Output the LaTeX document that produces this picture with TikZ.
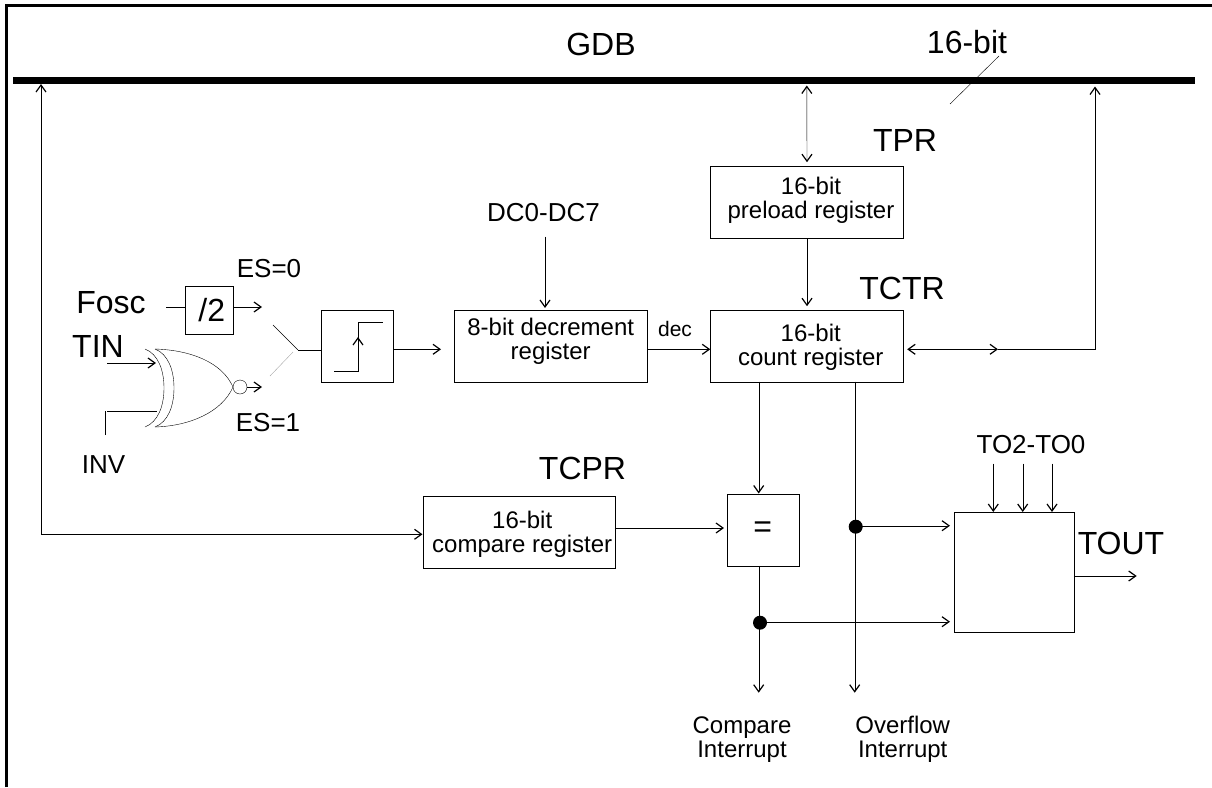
\documentclass[tikz,border=0pt]{standalone}
\usepackage{fontspec}
\setmainfont{Liberation Sans}
\usetikzlibrary{arrows.meta}
\newcommand{\fbig}{\fontsize{32}{34}\selectfont}
\newcommand{\fmid}{\fontsize{26}{28}\selectfont}
\newcommand{\fsmall}{\fontsize{24}{24}\selectfont}
\newcommand{\fdec}{\fontsize{21}{24}\selectfont}
\tikzset{
 x=1pt,y=-1pt,
 line width=1.3pt,
 box/.style={draw,minimum width=#1,inner sep=0pt,align=center,font=\fsmall,anchor=north west},
 big/.style={font=\fbig,inner sep=0pt,anchor=base},
 small/.style={font=\fsmall,inner sep=0pt,align=center,anchor=base},
 mid/.style={font=\fmid,inner sep=0pt,anchor=base},
 arr/.style={-{Straight Barb[length=7pt,width=10pt,line width=1.2pt]}},
 barr/.style={{Straight Barb[length=7pt,width=10pt,line width=1.2pt]}-{Straight Barb[length=7pt,width=10pt,line width=1.2pt]}},
 dotn/.style={circle,fill,inner sep=0pt,minimum size=14pt},
}
\begin{document}
\begin{tikzpicture}
\useasboundingbox (0,0) rectangle (1212,787);
% frame
\draw[line width=2.8pt] (6.5,787) -- (6.5,5.5) -- (1212,5.5);
% bus
\coordinate (busL) at (13,80.3); \coordinate (busR) at (1194.5,80.3);
\draw[line width=7.5pt] (busL) -- (busR);
\node[big] (gdb) at (601,55.3) {GDB};
\node[big] (bw) at (967,53) {16-bit};
\coordinate (s1) at (999,56); \coordinate (s2) at (950,104);
\draw (s1) -- (s2);
% boxes
\node[box=193pt,minimum height=72pt] (tpr) at (710.3,165.7) {\hspace*{8pt}16-bit\\\hspace*{8pt}preload register\rule[-9pt]{0pt}{0pt}};
\node[box=193pt,minimum height=72pt] (tctr) at (710.3,309.7) {\hspace*{7.5pt}\rule{0pt}{21pt}16-bit\\\hspace*{7.5pt}count register};
\node[box=193pt,minimum height=72pt] (dec) at (454,309.7) {8-bit decrement\\register\rule[-14.5pt]{0pt}{0pt}};
\node[box=72pt,minimum height=72pt] (sch) at (321,309.7) {};
\node[box=48pt,minimum height=48pt,font=\fbig] (div) at (185,286) {\hspace*{5pt}/2};
\node[box=192pt,minimum height=72pt] (cmp) at (422.5,496) {\hspace*{7pt}\rule{0pt}{21pt}16-bit\\\hspace*{7pt}compare register};
\node[box=72pt,minimum height=72pt,font=\fbig] (eq) at (726.5,493.5) {=};
\node[box=120pt,minimum height=120pt] (out) at (953.5,512) {};
% labels
\node[big] (ltpr) at (905,151.7) {TPR};
\node[big] (ltctr) at (902,299) {TCTR};
\node[big] (ltcpr) at (582.5,479.3) {TCPR};
\node[big] (lfosc) at (111,313) {Fosc};
\node[big] (ltin) at (98,357) {TIN};
\node[big] (ltout) at (1121,554) {TOUT};
\node[mid] (les0) at (269,277) {ES=0};
\node[mid] (les1) at (268,431) {ES=1};
\node[mid] (linv) at (103.5,473) {INV};
\node[mid] (ldc) at (543.5,221.7) {DC0-DC7};
\node[mid] (lto) at (1031,453) {TO2-TO0};
\node[inner sep=0pt,font=\fdec,anchor=base] (ldec) at (675,336) {dec};
\node[small] (lci) at (742,757.5) {Compare\\Interrupt};
\node[small] (loi) at (902.7,757.5) {Overflow\\Interrupt};
% gate
\coordinate (tip) at (233,387);
\draw (145,349) .. controls (158,354) and (164,370) .. (164,388) .. controls (164,406) and (158,422) .. (145,427);
\draw (155,349) .. controls (168,354) and (174,370) .. (174,388) .. controls (174,406) and (168,422) .. (155,427);
\draw (155,349) .. controls (190,350) and (222,362) .. (tip) .. controls (222,412) and (190,426) .. (155,427);
\node[draw,circle,minimum size=14pt,inner sep=0pt] (bub) at (240,387) {};
% inputs
\coordinate (tinS) at (107,363); \coordinate (tinE) at (156,363);
\draw[arr] (tinS) -- (tinE);
\coordinate (invV) at (105,435); \coordinate (invT) at (105,411); \coordinate (invH) at (107,411); \coordinate (invE) at (157,411);
\draw (invV) -- (invT); \draw (invH) -- (invE);
\coordinate (fS) at (166,307);
\draw (fS) -- (div.west |- fS);
\coordinate (es0) at (262,307); \coordinate (es1) at (262,387);
\draw[arr] (div.east |- es0) -- (es0);
\draw[arr] (bub.east) -- (es1);
% switch
\coordinate (swp) at (298,350);
\draw (273,325) -- (swp);
\draw[gray!70] (270,376) -- (293,352);
\draw (swp) -- (sch.west |- swp);
% schmitt
\draw (334,371) -- (358,371) -- (358,322) -- (383,322);
\coordinate (schB) at (358,360); \coordinate (schT) at (358,337);
\draw[arr] (schB) -- (schT);
\coordinate (o1) at (441,349.3);
\draw[arr] (sch.east |- o1) -- (o1);
% connectors
\coordinate (dcS) at (545,236.7); \coordinate (dcE) at (545,308);
\draw[arr] (dcS) -- (dcE);
\coordinate (dc2) at (675,349.3);
\draw[arr] (dec.east |- dc2) -- (tctr.west |- dc2);
\draw[arr,shorten >=3.5pt] (tpr.south) -- (tctr.north);
\coordinate (b1) at (806.8,85.5);
\draw[barr,shorten >=3.5pt] (b1) -- (tpr.north);
\coordinate (c1) at (903,349.3); \coordinate (c2) at (998,349.3); \coordinate (c3) at (1095,349.3); \coordinate (c4) at (1095,86.5);
\draw[barr,shorten <=3.5pt] (tctr.east |- c1) -- (c2);
\draw[arr] (c2) -- (c3) -- (c4);
\coordinate (d1) at (758.7,381.7); \coordinate (d2) at (854.7,381.7);
\draw[arr] (d1) -- (eq.north -| d1);
\coordinate (ov) at (854.7,692.7); \coordinate (ci) at (758.7,692.7);
\draw[arr] (d2) -- (ov);
\draw[arr] (eq.south -| ci) -- (ci);
\node[dotn] (dot1) at (855.7,526.7) {};
\node[dotn] (dot2) at (760,622.7) {};
\coordinate (e1) at (855.7,525.7); \coordinate (e2) at (760,621.7);
\draw[arr,shorten >=3.5pt] (e1) -- (out.west |- e1);
\draw[arr,shorten >=3.5pt] (e2) -- (out.west |- e2);
\coordinate (m1) at (660,528);
\draw[arr,shorten >=2.5pt] (cmp.east |- m1) -- (eq.west |- m1);
\coordinate (l1) at (41,84); \coordinate (l2) at (41,534.3);
\draw[arr] (l2) -- (cmp.west |- l2);
\draw[arr] (l2) -- (l1);
\coordinate (to1) at (993.3,463.5); \coordinate (to2) at (1022.7,463.5); \coordinate (to3) at (1052,463.5);
\draw[arr] (to1) -- (out.north -| to1);
\draw[arr] (to2) -- (out.north -| to2);
\draw[arr] (to3) -- (out.north -| to3);
\coordinate (tout) at (1136.7,576);
\draw[arr] (out.east |- tout) -- (tout);
\end{tikzpicture}
\end{document}
